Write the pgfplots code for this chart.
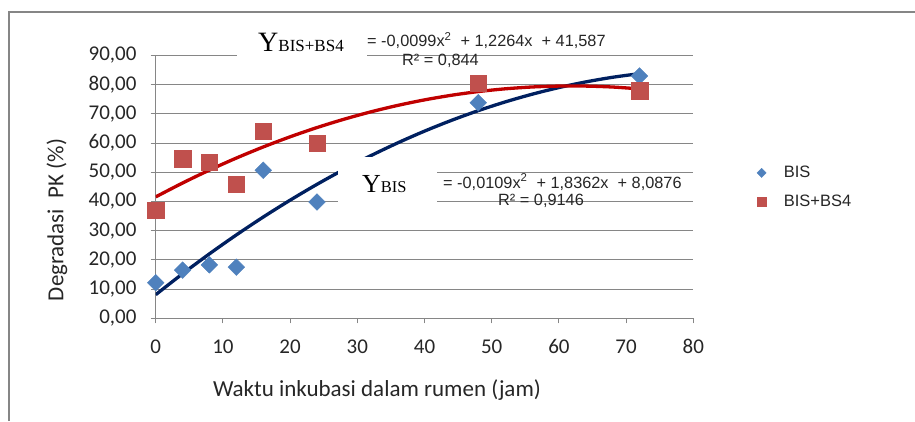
\documentclass[border=0pt]{standalone}
\usepackage{fontspec}
\setmainfont{Carlito}
\newfontfamily\arialf{Liberation Sans}
\newfontfamily\timesf{Liberation Serif}
\usepackage{pgfplots}
\pgfplotsset{compat=1.18}
\definecolor{axgray}{HTML}{868686}
\definecolor{bisfill}{HTML}{4F81BD}
\definecolor{bsfill}{HTML}{C0504D}
\definecolor{bisline}{HTML}{002060}
\definecolor{bsline}{HTML}{C00000}
\definecolor{txt}{HTML}{262626}

\pgfplotstableread{
x y
0 12.2
4 16.5
8 18.3
12 17.5
16 50.7
24 39.8
48 73.8
72 83.0
}\bis
\pgfplotstableread{
x y
0 37.1
4 54.6
8 53.5
12 46.0
16 64.1
24 60.0
48 80.6
72 77.9
}\bsfour
% trend lines (from the printed equations)
\pgfplotstableread{
x y
0 8.088
4 15.258
8 22.080
12 28.552
16 34.676
20 40.452
24 45.878
28 50.956
32 55.684
36 60.064
40 64.096
44 67.778
48 71.112
52 74.096
56 76.732
60 79.020
64 80.958
68 82.548
72 83.788
}\bistrend
\pgfplotstableread{
x y
0 41.587
4 46.334
8 50.765
12 54.878
16 58.675
20 62.155
24 65.318
28 68.165
32 70.694
36 72.907
40 74.803
44 76.382
48 77.645
52 78.590
56 79.219
60 79.531
64 79.526
68 79.205
72 78.566
}\bstrend

\begin{document}
\begin{tikzpicture}
\begin{axis}[
  at={(0pt,0pt)}, anchor=south west,
  width=537.6pt, height=262.8pt, scale only axis,
  xmin=0, xmax=80, ymin=0, ymax=90,
  xtick={0,10,...,80}, ytick={0,10,...,90},
  axis x line*=bottom, axis y line*=left,
  axis line style={axgray, line width=1pt, -},
  ymajorgrids, grid style={axgray, line width=1pt},
  tick align=outside, major tick length=5pt,
  tick style={axgray, line width=1pt},
  /pgf/number format/assume math mode=true,
  ticklabel style={font=\fontsize{21}{25}\selectfont, text=txt},
  yticklabel style={/pgf/number format/.cd, fixed, fixed zerofill, precision=2, use comma, /tikz/.cd, inner sep=0pt, xshift=-14pt},
  xticklabel style={inner sep=0pt, yshift=-16pt},
  xlabel={Waktu inkubasi dalam rumen (jam)},
  ylabel={Degradasi\ \ PK (\%)},
  label style={font=\fontsize{23}{27}\selectfont, text=txt},
  xlabel style={at={(axis description cs:0.4116,-0.273)}, anchor=center},
  ylabel style={at={(axis description cs:-0.1836,0.374)}, anchor=center},
  legend style={at={(axis description cs:1.104,0.498)}, anchor=west, draw=none, fill=none,
    font=\arialf\fontsize{16.5}{19}\selectfont, text=txt, row sep=12pt},
  legend cell align=left,
  legend image code/.code={\path (0pt,-4pt) (29pt,4pt); \draw[#1, every mark/.append style={scale=0.55}] plot coordinates {(9pt,0pt)};},
]
\addplot[only marks, mark=square*, mark size=5.9pt, mark options={rotate=45, fill=bisfill, draw=bisfill}] table[x=x,y=y] {\bis};
\addlegendentry{BIS}
\addplot[only marks, mark=square*, mark size=8.2pt, mark options={fill=bsfill, draw=bsfill}] table[x=x,y=y] {\bsfour};
\addlegendentry{BIS+BS4}
\addplot[forget plot, no marks, smooth, bisline, line width=3.3pt] table[x=x,y=y] {\bistrend};
\addplot[forget plot, no marks, smooth, bsline, line width=3.3pt] table[x=x,y=y] {\bstrend};
\end{axis}
\begin{scope}[shift={(-155.7pt,318.3pt)}, x=1pt, y=-1pt]
  \draw[axgray, line width=1.6pt] (9,421) -- (9,12) -- (920,12);
  \fill[white] (237,30) rectangle (367,64);
  \fill[white] (338,157) rectangle (437,212);
  \node[anchor=base west, inner sep=0pt] at (258,51.7) {\timesf\fontsize{28}{30}\selectfont Y\fontsize{17}{19}\selectfont BIS+BS4};
  \node[anchor=base west, inner sep=0pt] at (362,192.7) {\timesf\fontsize{26}{30}\selectfont Y\fontsize{16.5}{19}\selectfont BIS};
  \node[anchor=west, inner sep=0pt, text=txt] at (367,40.5) {\arialf\fontsize{16.3}{19}\selectfont = -0,0099x\textsuperscript{2}\ \ + 1,2264x\ \ + 41,587};
  \node[anchor=west, inner sep=0pt, text=txt] at (402,60.5) {\arialf\fontsize{16.3}{19}\selectfont R² = 0,844};
  \node[anchor=west, inner sep=0pt, text=txt] at (443,182) {\arialf\fontsize{16.3}{19}\selectfont = -0,0109x\textsuperscript{2}\ \ + 1,8362x\ \ + 8,0876};
  \node[anchor=west, inner sep=0pt, text=txt] at (498,200.5) {\arialf\fontsize{16.3}{19}\selectfont R² = 0,9146};
  \pgfresetboundingbox
  \path[use as bounding box] (0,0) rectangle (915,421);
\end{scope}
\end{tikzpicture}
\end{document}
